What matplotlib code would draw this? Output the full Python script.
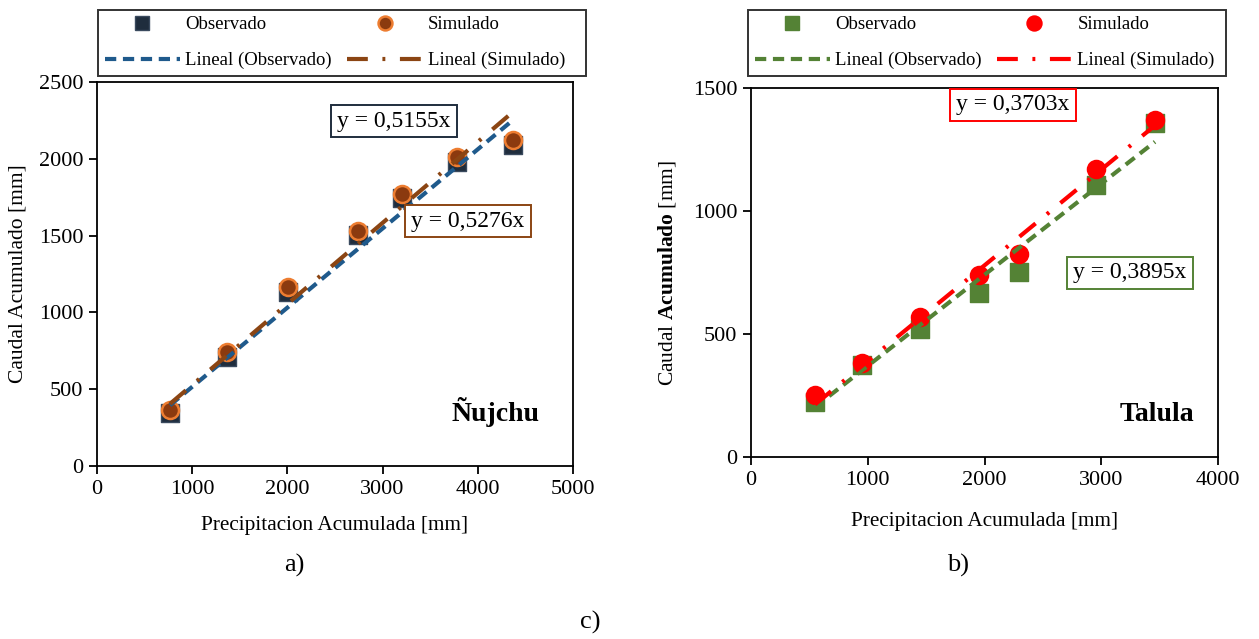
import matplotlib.pyplot as plt
from matplotlib.lines import Line2D
import numpy as np

plt.rcParams["font.family"] = ["Liberation Serif", "DejaVu Serif"]
plt.rcParams["mathtext.fontset"] = "custom"
plt.rcParams["mathtext.rm"] = "Liberation Serif"
plt.rcParams["mathtext.bf"] = "Liberation Serif:bold"

# ---------------- DATA ----------------
# Ñujchu
nuj_precip = [767, 1362, 2010, 2745, 3207, 3778, 4366]
nuj_obs = [345, 710, 1135, 1504, 1743, 1981, 2090]
nuj_sim = [365, 744, 1167, 1532, 1771, 2010, 2122]
nuj_slope_obs = 0.5155
nuj_slope_sim = 0.5276

# Talula
tal_precip = [548, 948, 1448, 1956, 2299, 2955, 3460]
tal_obs = [225, 374, 519, 668, 752, 1104, 1356]
tal_sim = [252, 383, 568, 740, 824, 1169, 1370]
tal_slope_obs = 0.3703
tal_slope_sim = 0.3895

fig = plt.figure(figsize=(12.59, 6.39), dpi=100)


def panel(rect, x, obs, sim, s_obs, s_sim, c_obs, c_obs_edge, c_sim, c_sim_edge,
          c_line_obs, c_line_sim, xmax, ymax, ystep, name, name_xy,
          box1, box2, legend_rect, ylabel, xpad, tail):
    ax = fig.add_axes(rect)
    ax.scatter(x, obs, marker="s", s=150, color=c_obs, edgecolor=c_obs_edge,
               linewidth=1, zorder=3)
    ax.scatter(x, sim, marker="o", s=150, color=c_sim, edgecolor=c_sim_edge,
               linewidth=1.8, zorder=4)

    xl = np.array([x[0], x[-1]])
    ax.plot(xl, s_obs * xl, color=c_line_obs, lw=3, ls=(0, (2.7, 1.6)), zorder=5)
    ax.plot(xl, s_sim * xl, color=c_line_sim, lw=3, ls=(0, (5, 3.5, 0.7, 3.5)), zorder=5)

    ax.set_xlim(0, xmax)
    ax.set_ylim(0, ymax)
    ax.set_xticks(np.arange(0, xmax + 1, 1000))
    ax.set_yticks(np.arange(0, ymax + 1, ystep))
    ax.tick_params(labelsize=16, length=6, width=1.3, direction="out", pad=4)
    for sp in ax.spines.values():
        sp.set_linewidth(1.3)

    ax.set_xlabel("Precipitacion Acumulada [mm]", fontsize=15.3, labelpad=xpad)
    ax.set_ylabel(ylabel, fontsize=15.5)

    ax.text(name_xy[0], name_xy[1], name, fontsize=20, fontweight="bold",
            ha="right", va="center")

    for (bx, by, txt, ec) in (box1, box2):
        ax.text(bx, by, txt, fontsize=17, ha="center", va="center", zorder=6,
                bbox=dict(boxstyle="square,pad=0.25", fc="white", ec=ec, lw=1.4))

    handles = [
        Line2D([], [], marker="s", ls="", ms=10, color=c_obs, mec=c_obs_edge),
        Line2D([], [], marker="o", ls="", ms=10, color=c_sim, mec=c_sim_edge, mew=1.8),
        Line2D([], [], color=c_line_obs, lw=3, ls=(0, (2.7, 1.6))),
        Line2D([], [], color=c_line_sim, lw=3, ls=(0, (5, 3.5, 0.7, 3.5))),
    ]
    labels = ["Observado", "Simulado", "Lineal (Observado)", "Lineal (Simulado)" + " " * tail]
    order = [0, 2, 1, 3]
    leg = fig.legend([handles[i] for i in order], [labels[i] for i in order],
                     ncol=2, bbox_to_anchor=legend_rect, mode="expand",
                     loc="lower left", fontsize=13.5, frameon=True, fancybox=False,
                     edgecolor="black", handlelength=4.0, borderaxespad=0,
                     handletextpad=0.3, columnspacing=0.8, labelspacing=1.0,
                     borderpad=0.35)
    leg.get_frame().set_linewidth(1.4)
    return ax


ax1 = panel([97 / 1259, 1 - 466 / 639, 476 / 1259, 384 / 639],
            nuj_precip, nuj_obs, nuj_sim, nuj_slope_obs, nuj_slope_sim,
            "#1F2D3D", "#3A4A5E", "#8B3A0F", "#ED7D31", "#1F5A8C", "#8B4513",
            5000, 2500, 500, "Ñujchu", (4650, 352),
            (3120, 2246, "y = 0,5155x", "#1F2D3D"),
            (3897, 1595, "y = 0,5276x", "#8B4513"),
            (98 / 1259, 1 - 76 / 639, 488 / 1259, 71 / 639),
            "Caudal Acumulado [mm]", 12, 3)

ax2 = panel([751 / 1259, 1 - 457 / 639, 467 / 1259, 369 / 639],
            tal_precip, tal_obs, tal_sim, tal_slope_obs, tal_slope_sim,
            "#548235", "#548235", "#FF0000", "#FF0000", "#548235", "#FF0000",
            4000, 1500, 500, "Talula", (3795, 171),
            (2244, 1431, "y = 0,3703x", "#FF0000"),
            (3246, 748, "y = 0,3895x", "#548235"),
            (748 / 1259, 1 - 76 / 639, 478 / 1259, 71 / 639),
            "Caudal $\\mathbf{Acumulado}$ [mm]", 16, 1)

ax1.yaxis.set_label_coords(-0.147, 0.5)
ax2.yaxis.set_label_coords(-0.156, 0.5)

fig.text(294 / 1259, 1 - 565 / 639, "a)", fontsize=19, ha="center", va="center")
fig.text(958 / 1259, 1 - 565 / 639, "b)", fontsize=19, ha="center", va="center")
fig.text(590 / 1259, 1 - 622 / 639, "c)", fontsize=19, ha="center", va="center")

fig.savefig("out.png", dpi=100)
